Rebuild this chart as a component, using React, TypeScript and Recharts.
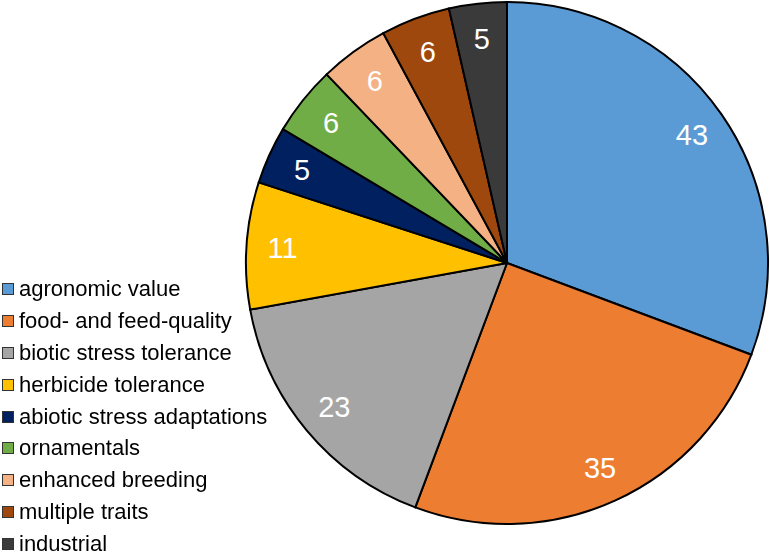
import { PieChart, Pie, Cell, Legend } from 'recharts';

const categories = [
  'agronomic value',
  'food- and feed-quality',
  'biotic stress tolerance',
  'herbicide tolerance',
  'abiotic stress adaptations',
  'ornamentals',
  'enhanced breeding',
  'multiple traits',
  'industrial',
];

const counts = [43, 35, 23, 11, 5, 6, 6, 6, 5];

const colors = [
  '#5B9BD5',
  '#ED7D31',
  '#A5A5A5',
  '#FFC000',
  '#002060',
  '#70AD47',
  '#F4B183',
  '#9E480E',
  '#3A3A3A',
];

const data = categories.map((name, i) => ({ name, value: counts[i] }));

const RAD = Math.PI / 180;

const renderLabel = (props: any) => {
  const { cx, cy, midAngle, value } = props;
  const r = 225;
  const x = cx + r * Math.cos(-midAngle * RAD);
  const y = cy + r * Math.sin(-midAngle * RAD);
  return (
    <text
      x={x}
      y={y}
      fill="#ffffff"
      textAnchor="middle"
      dominantBaseline="central"
      fontSize={29}
      fontFamily="Liberation Sans, Arial, sans-serif"
    >
      {value}
    </text>
  );
};

const renderLegend = () => (
  <div style={{ fontFamily: 'Liberation Sans, Arial, sans-serif', fontSize: 22, color: '#000' }}>
    {categories.map((name, i) => (
      <div key={name} style={{ height: 31.9, lineHeight: '31.9px', display: 'flex', alignItems: 'center', whiteSpace: 'nowrap' }}>
        <span
          style={{
            display: 'inline-block',
            width: 10,
            height: 10,
            background: colors[i],
            border: '1px solid #333',
            marginLeft: 2,
            marginRight: 5,
          }}
        />
        <span>{name}</span>
      </div>
    ))}
  </div>
);

export default function App() {
  return (
    <div style={{ position: 'fixed', left: 0, top: 0, width: 770, height: 552, background: '#fff' }}>
      <PieChart width={770} height={552} margin={{ top: 0, right: 0, bottom: 0, left: 0 }}>
        <Pie
          data={data}
          dataKey="value"
          nameKey="name"
          cx={507}
          cy={263}
          outerRadius={261}
          startAngle={90}
          endAngle={-270}
          stroke="#000"
          strokeWidth={2}
          label={renderLabel}
          labelLine={false}
          isAnimationActive={false}
        >
          {data.map((d, i) => (
            <Cell key={d.name} fill={colors[i]} />
          ))}
        </Pie>
        <Legend
          content={renderLegend}
          layout="vertical"
          wrapperStyle={{ position: 'absolute', left: 0, top: 273, width: 300 }}
        />
      </PieChart>
    </div>
  );
}
